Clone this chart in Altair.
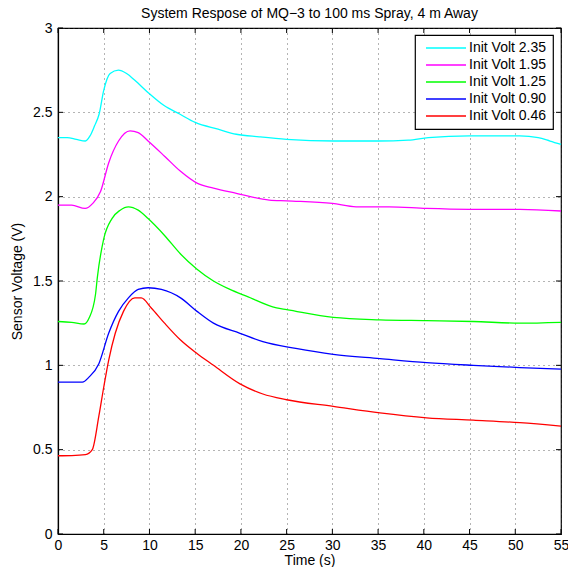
import altair as alt
import pandas as pd

# ---- data ----
series_names = ["Init Volt 2.35", "Init Volt 1.95", "Init Volt 1.25", "Init Volt 0.90", "Init Volt 0.46"]
series_colors = ["#00FFFF", "#FF00FF", "#00FF00", "#0000FF", "#FF0000"]
series_widths = [1.3, 1.3, 1.3, 1.9, 1.4]

t_cyan = [0, 1, 2, 3.0, 3.5, 4.0, 4.5, 5.0, 5.7, 6.6, 7.5, 8.4, 10, 11.6, 13.3, 15, 17.5, 19.5, 22, 25, 30.2, 35, 38.3, 40.5, 45, 50.5, 52.5, 53.8, 55]
v_cyan = [2.35, 2.35, 2.34, 2.33, 2.36, 2.42, 2.49, 2.63, 2.73, 2.75, 2.73, 2.69, 2.61, 2.54, 2.49, 2.44, 2.40, 2.37, 2.355, 2.34, 2.33, 2.33, 2.335, 2.35, 2.36, 2.36, 2.35, 2.33, 2.31]

t_magenta = [0, 1.5, 2.96, 3.8, 4.65, 5.54, 6.62, 7.88, 8.77, 9.85, 11.65, 13.4, 15.2, 17.0, 19.5, 23.1, 25, 30, 32.6, 36.2, 40.3, 45, 50.5, 55]
v_magenta = [1.95, 1.95, 1.93, 1.96, 2.03, 2.20, 2.33, 2.39, 2.38, 2.33, 2.24, 2.15, 2.08, 2.05, 2.02, 1.98, 1.975, 1.96, 1.94, 1.94, 1.93, 1.925, 1.925, 1.915]

t_green = [0, 1.5, 2.85, 3.4, 4.1, 4.3, 5.0, 5.9, 6.8, 7.7, 8.77, 9.85, 11.65, 13.4, 15.2, 17.0, 18.8, 20.6, 23.9, 25, 30.1, 35.2, 40.3, 45.4, 50.5, 55]
v_green = [1.26, 1.255, 1.245, 1.28, 1.42, 1.52, 1.75, 1.87, 1.92, 1.94, 1.92, 1.87, 1.77, 1.66, 1.57, 1.50, 1.45, 1.41, 1.34, 1.33, 1.284, 1.27, 1.265, 1.26, 1.25, 1.255]

t_blue = [0, 1.5, 2.67, 3.39, 4.47, 5.54, 6.62, 7.7, 8.77, 9.85, 11.3, 13.4, 15.2, 17.0, 19.9, 22.4, 26.0, 30.1, 35.2, 40.3, 45.4, 50.5, 55]
v_blue = [0.90, 0.90, 0.90, 0.93, 1.01, 1.19, 1.32, 1.40, 1.45, 1.46, 1.45, 1.40, 1.32, 1.25, 1.19, 1.14, 1.10, 1.065, 1.04, 1.016, 1.00, 0.987, 0.978]

t_red = [0, 1.5, 3.0, 3.75, 4.47, 5.0, 5.54, 6.26, 7.16, 8.4, 9.1, 10.2, 11.65, 13.4, 15.2, 17.0, 19.9, 22.4, 25, 30.1, 35.2, 40.3, 45.4, 50.5, 55]
v_red = [0.464, 0.465, 0.47, 0.50, 0.70, 0.87, 1.03, 1.19, 1.32, 1.40, 1.40, 1.34, 1.25, 1.15, 1.07, 1.00, 0.89, 0.83, 0.796, 0.757, 0.718, 0.689, 0.675, 0.66, 0.64]

x_ticks = [0, 5, 10, 15, 20, 25, 30, 35, 40, 45, 50, 55]
y_ticks = [0, 0.5, 1, 1.5, 2, 2.5, 3]

# ---- build table ----
all_t = [t_cyan, t_magenta, t_green, t_blue, t_red]
all_v = [v_cyan, v_magenta, v_green, v_blue, v_red]
rows = []
for i, (name, ts, vs) in enumerate(zip(series_names, all_t, all_v)):
    for t, v in zip(ts, vs):
        rows.append({"series": name, "t": t, "v": v, "k": i})
df = pd.DataFrame(rows)

W, H = 503, 506
FONT = "Liberation Sans"

xs = alt.Scale(domain=[0, 55], nice=False, zero=False)
ys = alt.Scale(domain=[0, 3], nice=False, zero=False)

lines = alt.Chart(df).mark_line(interpolate="monotone").encode(
    x=alt.X("t:Q", scale=xs,
            axis=alt.Axis(values=x_ticks, title="Time (s)", format="d", tickSize=0,
                          labelPadding=4, titlePadding=1, labelFlush=False)),
    y=alt.Y("v:Q", scale=ys,
            axis=alt.Axis(values=y_ticks, title="Sensor Voltage (V)", format="~g", tickSize=0,
                          labelPadding=6, titlePadding=8, labelFlush=False)),
    color=alt.Color("series:N",
                    scale=alt.Scale(domain=series_names, range=series_colors),
                    sort=series_names,
                    legend=alt.Legend(title=None, orient="none", legendX=357, legendY=7,
                                      strokeColor="black", fillColor="white", padding=6,
                                      labelFontSize=14, labelFont=FONT, labelColor="black",
                                      symbolType="M-4,0H4", symbolSize=100,
                                      symbolStrokeWidth=1.2, symbolOffset=18, labelOffset=16,
                                      rowPadding=3)),
    strokeWidth=alt.StrokeWidth("series:N",
                                scale=alt.Scale(domain=series_names, range=series_widths),
                                legend=None),
    order=alt.Order("k:Q"),
)

xt = pd.DataFrame({"x": x_ticks})
yt = pd.DataFrame({"y": y_ticks})
tb = alt.Chart(xt).mark_rule(color="black", strokeWidth=1).encode(
    x=alt.X("x:Q", scale=xs), y=alt.value(H), y2=alt.value(H - 5))
tt = alt.Chart(xt).mark_rule(color="black", strokeWidth=1).encode(
    x=alt.X("x:Q", scale=xs), y=alt.value(0), y2=alt.value(5))
tl = alt.Chart(yt).mark_rule(color="black", strokeWidth=1).encode(
    y=alt.Y("y:Q", scale=ys), x=alt.value(0), x2=alt.value(5))
tr = alt.Chart(yt).mark_rule(color="black", strokeWidth=1).encode(
    y=alt.Y("y:Q", scale=ys), x=alt.value(W), x2=alt.value(W - 5))

chart = alt.layer(lines, tb, tt, tl, tr).properties(
    width=W, height=H,
    title=alt.Title("System Respose of MQ\u22123 to 100 ms Spray, 4 m Away",
                    fontSize=14, font=FONT, fontWeight="normal", color="black",
                    offset=0, frame="group", anchor="middle"),
    autosize=alt.AutoSizeParams(type="none"),
    padding={"left": 50, "top": 20, "right": 7, "bottom": 33},
    background="white",
).configure_view(stroke="black", strokeWidth=1.2).configure_axis(
    domainColor="black", domainWidth=1.2,
    labelFont=FONT, labelFontSize=14, labelColor="black",
    titleFont=FONT, titleFontSize=14, titleFontWeight="normal", titleColor="black",
    grid=True, gridColor="#444", gridDash=[1, 4], gridWidth=1, gridOpacity=0.8,
).configure_legend(strokeWidth=1.2)

chart.save("out.html", embed_options={"renderer": "svg", "actions": False})
